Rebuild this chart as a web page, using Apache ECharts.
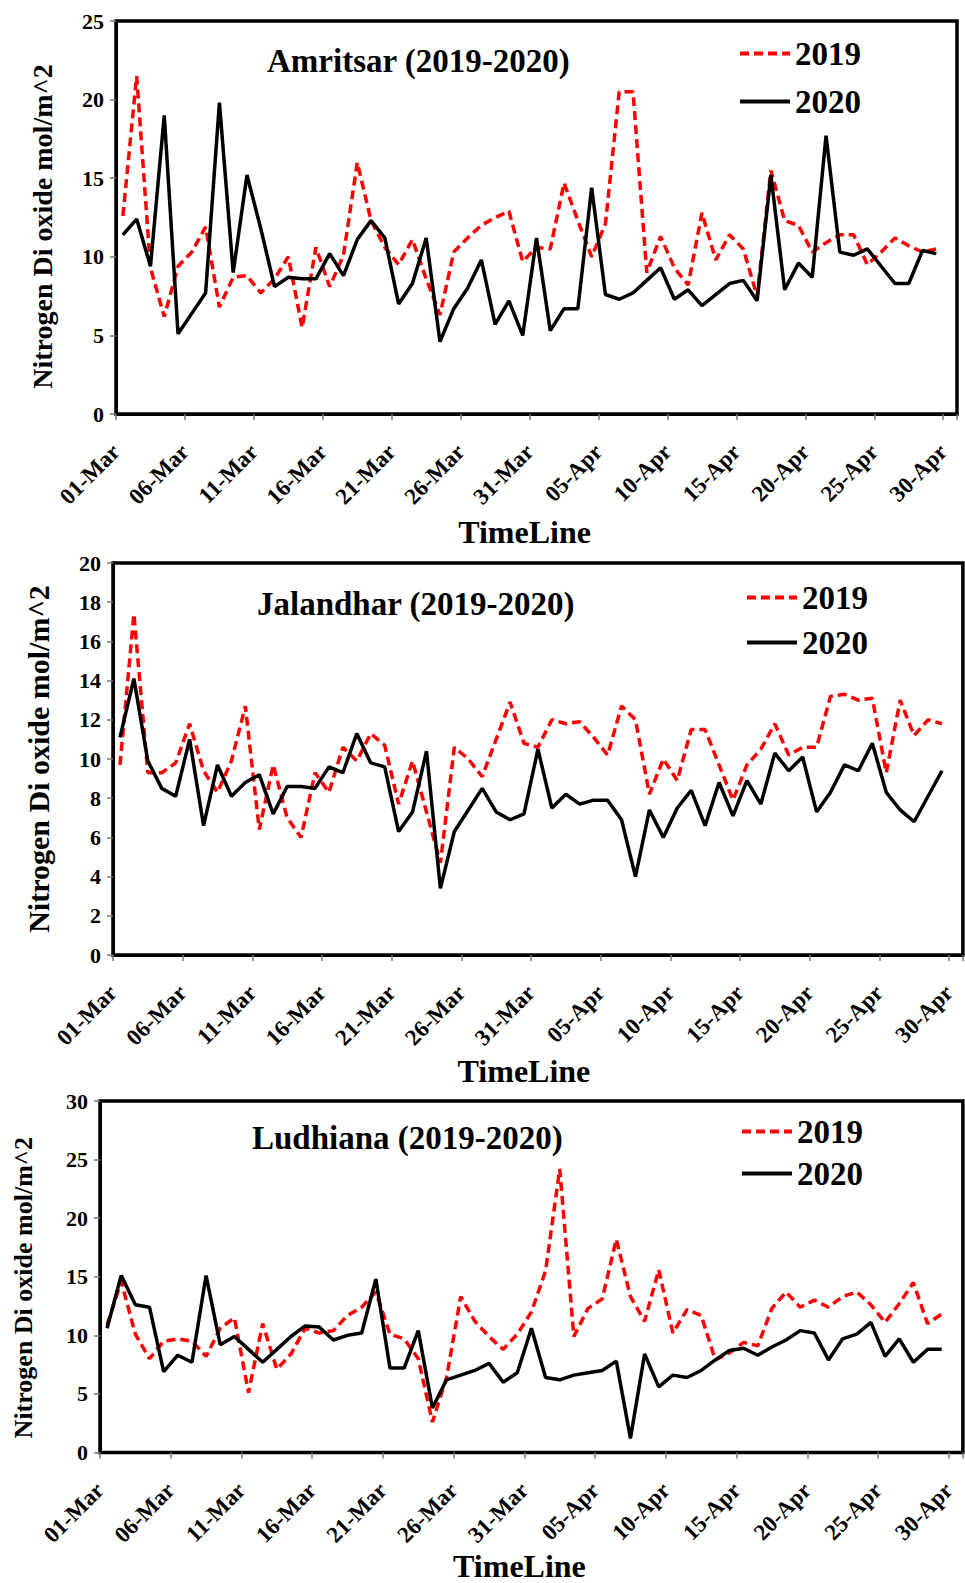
<!DOCTYPE html>
<html><head><meta charset="utf-8">
<script src="https://cdn.jsdelivr.net/npm/echarts@6/dist/echarts.min.js"></script>
<style>html,body{margin:0;padding:0;background:#fff}#c{width:965px;height:1583px}</style>
</head><body><div id="c"></div>
<script>
const tickLabels = ['01-Mar','06-Mar','11-Mar','16-Mar','21-Mar','26-Mar','31-Mar','05-Apr','10-Apr','15-Apr','20-Apr','25-Apr','30-Apr'];
const seriesNames = ['2019', '2020'];
const yAxisTitle = 'Nitrogen Di oxide mol/m^2';
const xAxisTitle = 'TimeLine';

const amritsar2019 = [12.6,21.5,9.3,6.2,9.4,10.3,11.9,6.8,8.7,8.8, 7.7,8.6,10.0,5.5,10.6,8.1,10.1,16.0,12.3,10.6, 9.5,11.1,8.6,6.3,10.3,11.2,12.0,12.5,12.9,9.7, 10.6,10.5,14.7,12.3,10.0,12.1,20.5,20.5,9.0,11.3, 9.3,8.2,12.8,9.8,11.4,10.5,7.5,15.5,12.3,12.0, 10.3,10.9,11.4,11.4,9.5,10.3,11.2,10.7,10.3,10.5];
const amritsar2020 = [11.4,12.4,9.4,19.0,5.1,6.4,7.7,19.8,9.0,15.2, 11.8,8.1,8.7,8.6,8.6,10.2,8.8,11.1,12.3,11.2, 7.0,8.3,11.2,4.6,6.7,8.0,9.8,5.7,7.2,5.0, 11.2,5.3,6.7,6.7,14.4,7.6,7.3,7.7,8.5,9.3, 7.3,7.9,6.9,7.6,8.3,8.5,7.2,15.2,7.9,9.6, 8.7,17.7,10.3,10.1,10.5,9.4,8.3,8.3,10.4,10.2];
const jalandhar2019 = [9.7,17.4,9.3,9.3,9.8,11.8,9.4,8.3,9.9,12.7, 6.4,9.7,7.0,6.0,9.3,8.3,10.6,9.9,11.3,10.7, 7.7,9.9,7.3,4.7,10.6,10.0,9.1,11.0,12.9,10.8, 10.6,12.0,11.8,11.9,11.1,10.2,12.7,12.0,8.2,10.0, 8.9,11.5,11.5,9.7,7.9,9.7,10.5,11.8,10.2,10.6, 10.6,13.2,13.3,13.0,13.1,9.3,13.0,11.2,12.0,11.8];
const jalandhar2020 = [11.1,14.1,9.9,8.5,8.1,11.0,6.6,9.7,8.1,8.8, 9.2,7.2,8.6,8.6,8.5,9.6,9.3,11.3,9.8,9.6, 6.3,7.3,10.4,3.4,6.3,7.4,8.5,7.3,6.9,7.2, 10.5,7.5,8.2,7.7,7.9,7.9,6.9,4.0,7.4,6.0, 7.5,8.4,6.6,8.8,7.1,8.9,7.7,10.3,9.4,10.1, 7.3,8.3,9.7,9.4,10.8,8.3,7.4,6.8,8.1,9.4];
const ludhiana2019 = [10.9,14.6,10.1,8.0,9.5,9.7,9.5,8.2,10.6,11.5, 5.1,11.0,7.1,8.4,10.6,10.2,10.4,11.7,12.4,13.7, 10.1,9.7,8.0,2.6,6.4,13.3,11.2,9.9,8.8,10.1, 12.0,15.5,24.2,9.9,12.3,13.1,18.2,13.3,11.2,15.6, 10.2,12.2,11.7,7.9,8.5,9.4,9.1,12.3,13.7,12.4, 13.0,12.4,13.3,13.7,12.6,11.1,12.7,14.5,11.0,11.8];
const ludhiana2020 = [10.6,15.1,12.6,12.4,6.9,8.3,7.7,15.1,9.2,9.9, 8.8,7.7,8.8,9.9,10.8,10.7,9.6,10.0,10.2,14.8, 7.2,7.2,10.4,3.8,6.2,6.6,7.0,7.6,6.0,6.8, 10.6,6.4,6.2,6.6,6.8,7.0,7.8,1.2,8.4,5.6, 6.6,6.4,7.0,7.9,8.7,8.9,8.3,9.0,9.6,10.4, 10.2,7.9,9.7,10.1,11.1,8.2,9.7,7.7,8.8,8.8];

const panelTitles = ['Amritsar (2019-2020)', 'Jalandhar (2019-2020)', 'Ludhiana (2019-2020)'];
const panelData = [[amritsar2019, amritsar2020], [jalandhar2019, jalandhar2020], [ludhiana2019, ludhiana2020]];
const yMax = [25, 20, 30];
const yStep = [5, 2, 5];

const FONT = 'Liberation Serif';
const layout = [
  {grid:{left:116, top:21, width:841, height:393}, title:{left:267, top:44}, legend:{left:738, top:37, itemGap:15}, yName:{gap:60, size:28, pad:18}, xName:{gap:102, pad:24}},
  {grid:{left:113, top:563, width:852, height:392}, title:{left:257, top:587}, legend:{left:745, top:581, itemGap:12}, yName:{gap:60, size:30, pad:0}, xName:{gap:100, pad:28}},
  {grid:{left:100, top:1101, width:864, height:362}, title:{left:252, top:1121}, legend:{left:740, top:1115, itemGap:9}, yName:{gap:64, size:26, pad:22}, xName:{gap:92, pad:24}}
];

const option = {
  animation: false,
  backgroundColor: '#fff',
  title: [], legend: [], grid: [], xAxis: [], yAxis: [], series: []
};

layout.forEach((L, k) => {
  option.grid.push(Object.assign({show:true, borderColor:'#000', borderWidth:3.5, backgroundColor:'transparent'}, L.grid));
  option.title.push({text: panelTitles[k], left:L.title.left, top:L.title.top, padding:0,
    textStyle:{fontFamily:FONT, fontWeight:'bold', fontSize:33, color:'#000'}});
  option.legend.push({data: seriesNames, orient:'vertical', left:L.legend.left, top:L.legend.top, padding:0,
    itemWidth:50, itemHeight:14, itemGap:L.legend.itemGap, selectedMode:false,
    itemStyle:{opacity:0},
    lineStyle:{width:4},
    textStyle:{fontFamily:FONT, fontWeight:'bold', fontSize:33, color:'#000', lineHeight:33}});
  option.xAxis.push({gridIndex:k, type:'value', min:0, max:61, interval:5,
    axisLine:{show:true, onZero:false, lineStyle:{color:'#000', width:3}},
    axisTick:{show:true, length:6, lineStyle:{color:'#777', width:1.5}},
    axisLabel:{rotate:45, margin:34, fontFamily:FONT, fontWeight:'bold', fontSize:23, color:'#000',
      formatter: v => (v % 5 === 0 && v / 5 < tickLabels.length) ? tickLabels[v / 5] : ''},
    splitLine:{show:false},
    name:xAxisTitle, nameLocation:'middle', nameGap:L.xName.gap,
    nameTextStyle:{fontFamily:FONT, fontWeight:'bold', fontSize:32, color:'#000', padding:[0, L.xName.pad, 0, 0]}});
  option.yAxis.push({gridIndex:k, type:'value', min:0, max:yMax[k], interval:yStep[k],
    axisLine:{show:true, onZero:false, lineStyle:{color:'#000', width:3}},
    axisTick:{show:true, length:6, lineStyle:{color:'#777', width:1.5}},
    axisLabel:{margin:12, fontFamily:FONT, fontWeight:'bold', fontSize:22, color:'#000'},
    splitLine:{show:false},
    name:yAxisTitle, nameLocation:'middle', nameRotate:90, nameGap:L.yName.gap,
    nameTextStyle:{fontFamily:FONT, fontWeight:'bold', fontSize:L.yName.size, color:'#000', padding:[0, L.yName.pad, 0, 0]}});
  const [d19, d20] = panelData[k];
  option.series.push({name:seriesNames[0], type:'line', xAxisIndex:k, yAxisIndex:k, symbol:'none', showSymbol:false,
    data: d19.map((v, i) => [i + 0.5, v]),
    lineStyle:{color:'#ff0000', width:3.5, type:[9, 5]}, itemStyle:{color:'#ff0000'}, z:2});
  option.series.push({name:seriesNames[1], type:'line', xAxisIndex:k, yAxisIndex:k, symbol:'none', showSymbol:false,
    data: d20.map((v, i) => [i + 0.5, v]),
    lineStyle:{color:'#000', width:3.5, type:'solid'}, itemStyle:{color:'#000'}, z:3});
});

const chart = echarts.init(document.getElementById('c'), null, {renderer:'svg', width:965, height:1583});
chart.setOption(option);
</script>
</body></html>
